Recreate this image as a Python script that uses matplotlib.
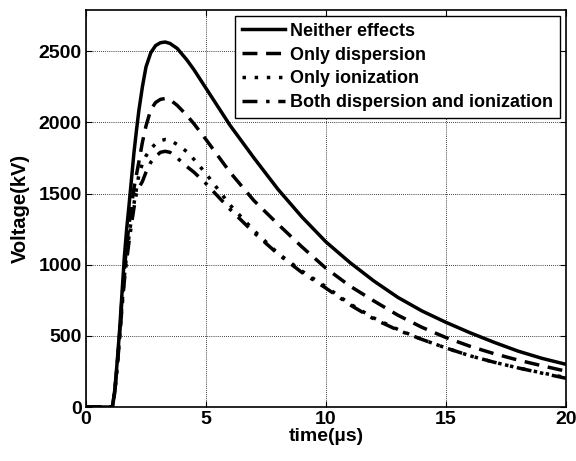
import matplotlib
matplotlib.use("Agg")
import matplotlib.pyplot as plt

t = [0, 1.1, 1.2, 1.3, 1.4, 1.5, 1.6, 1.7, 1.8, 1.9, 2.0, 2.1, 2.2, 2.35, 2.5,
     2.7, 2.9, 3.1, 3.3, 3.5, 3.8, 4.2, 4.5, 5, 5.5, 6, 7, 8, 9, 10, 11, 12,
     13, 14, 15, 16, 17, 18, 19, 20]

neither = [0, 0, 120, 320, 540, 800, 1060, 1260, 1430, 1610, 1790, 1940, 2080,
           2250, 2390, 2490, 2540, 2560, 2565, 2555, 2520, 2440, 2370, 2240,
           2110, 1980, 1750, 1530, 1335, 1160, 1015, 885, 770, 675, 595, 522,
           455, 393, 342, 300]

dispersion = [0, 0, 110, 300, 510, 760, 970, 1140, 1290, 1420, 1540, 1630,
              1720, 1860, 1975, 2090, 2140, 2162, 2168, 2160, 2120, 2050, 1990,
              1880, 1765, 1650, 1450, 1285, 1125, 975, 850, 745, 645, 560, 488,
              427, 375, 330, 290, 252]

ionization = [0, 0, 105, 285, 490, 720, 920, 1080, 1210, 1330, 1430, 1530,
              1630, 1710, 1765, 1815, 1850, 1872, 1880, 1875, 1845, 1795, 1740,
              1640, 1530, 1420, 1240, 1080, 955, 845, 725, 625, 545, 475, 415,
              360, 315, 275, 240, 207]

both = [0, 0, 105, 280, 480, 700, 890, 1040, 1170, 1290, 1400, 1500, 1540,
        1585, 1650, 1720, 1760, 1790, 1797, 1790, 1750, 1690, 1650, 1570, 1480,
        1390, 1225, 1075, 945, 835, 718, 618, 540, 475, 415, 360, 315, 275,
        238, 202]

labels = ["Neither effects", "Only dispersion", "Only ionization",
          "Both dispersion and ionization"]
xticks = [0, 5, 10, 15, 20]
yticks = [0, 500, 1000, 1500, 2000, 2500]

plt.rcParams['font.family'] = ['Liberation Sans', 'DejaVu Sans']
plt.rcParams['font.weight'] = 'bold'

fig = plt.figure(figsize=(5.76, 4.61), dpi=100)
ax = fig.add_axes([0.1493, 0.1171, 0.8333, 0.8612])

lw = 2.5
ax.plot(t, neither, color='black', lw=lw, ls='-', label=labels[0])
ax.plot(t, dispersion, color='black', lw=lw, ls=(0, (4.3, 2.5)), label=labels[1])
ax.plot(t, ionization, color='black', lw=lw, ls=(0, (1, 2.5)), label=labels[2])
ax.plot(t, both, color='black', lw=lw, ls=(0, (4.3, 2.5, 1, 2.5)), label=labels[3])

ax.set_xlim(0, 20)
ax.set_ylim(0, 2790)
ax.set_xticks(xticks)
ax.set_yticks(yticks)
ax.tick_params(direction='in', top=True, right=True, labelsize=14, width=0.8,
               length=4, pad=3)
for lab in ax.get_xticklabels() + ax.get_yticklabels():
    lab.set_fontweight('bold')
ax.grid(True, color='black', ls=(0, (1, 1.5)), lw=0.6)
for s in ax.spines.values():
    s.set_linewidth(1.2)

ax.set_xlabel("time(\u00b5s)", fontsize=14, fontweight='bold', labelpad=0)
ax.set_ylabel("Voltage(kV)", fontsize=14.5, fontweight='bold', labelpad=6.5)

leg = ax.legend(loc='upper right', fontsize=13, handlelength=2.4,
                fancybox=False, framealpha=1, edgecolor='black',
                borderaxespad=0.35, labelspacing=0.38, handletextpad=0.3,
                borderpad=0.35)
leg.get_frame().set_linewidth(1.0)
for txt in leg.get_texts():
    txt.set_fontweight('bold')

fig.savefig("out.png", dpi=100)
